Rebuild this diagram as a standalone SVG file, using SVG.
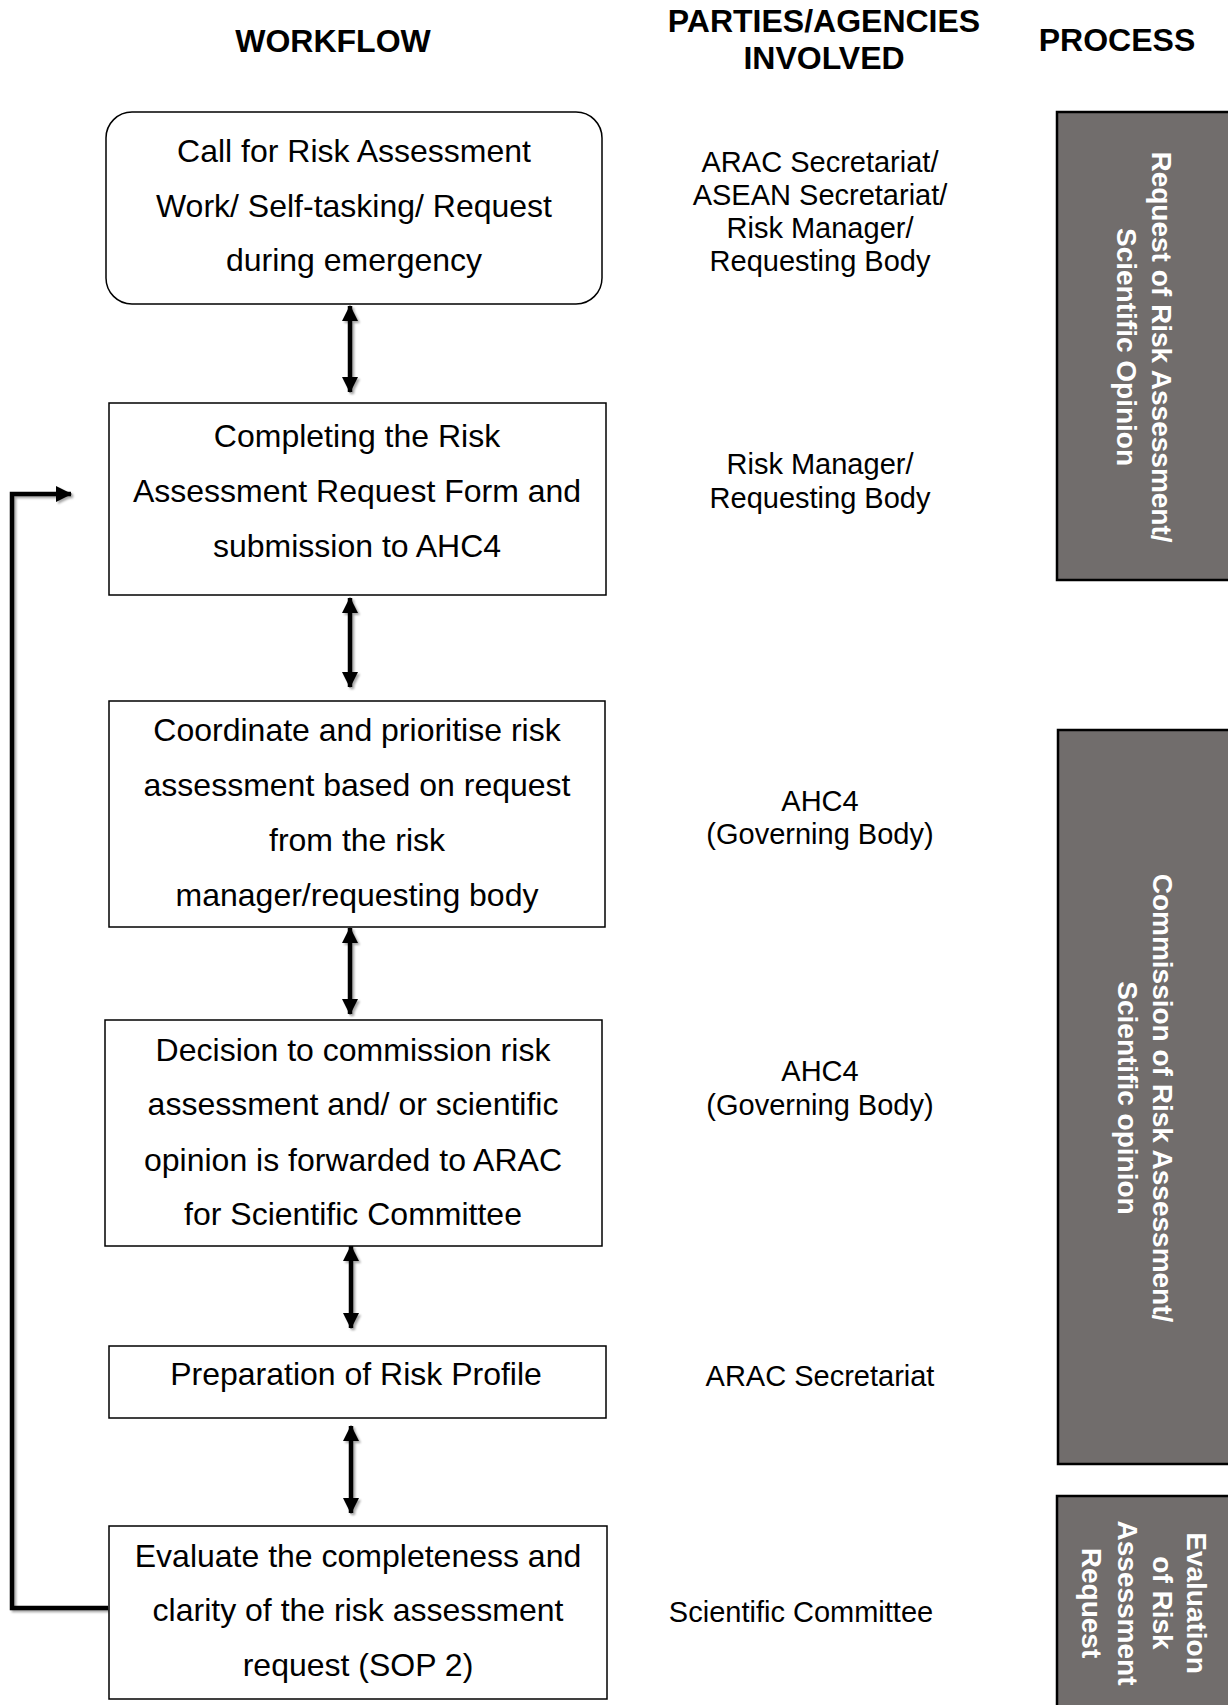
<svg xmlns="http://www.w3.org/2000/svg" width="1228" height="1705" viewBox="0 0 1228 1705">
<style>
  .hdr { font-family: "Liberation Sans", Arial, sans-serif; font-weight: bold; font-size: 32px; fill: #000; text-anchor: middle; }
  .wf { font-family: "Liberation Sans", Arial, sans-serif; font-size: 32px; fill: #000; text-anchor: middle; }
  .party { font-family: "Liberation Sans", Arial, sans-serif; font-size: 29px; fill: #000; text-anchor: middle; }
  .proc { font-family: "Liberation Sans", Arial, sans-serif; font-weight: bold; font-size: 28px; fill: #fff; text-anchor: middle; }
  .box { fill: #fff; stroke: #000; stroke-width: 1.5; }
  .pbox { fill: #716d6c; stroke: #000; stroke-width: 2.5; }
  .conn { fill: none; stroke: #000; stroke-width: 4.5; }
</style>
<defs>
  <marker id="ah" viewBox="0 0 16 16" refX="15" refY="8" markerWidth="16" markerHeight="16" markerUnits="userSpaceOnUse" orient="auto-start-reverse">
    <path d="M0,0 L16,8 L0,16 Z" fill="#000"/>
  </marker>
  <filter id="sh" x="-20%" y="-5%" width="140%" height="110%">
    <feDropShadow dx="2" dy="2" stdDeviation="1.2" flood-color="#000" flood-opacity="0.35"/>
  </filter>
</defs>
<rect width="1228" height="1705" fill="#fff"/>

<g id="headers">
  <text class="hdr" x="333" y="52">WORKFLOW</text>
  <text class="hdr" x="824" y="32">PARTIES/AGENCIES</text>
  <text class="hdr" x="824" y="69">INVOLVED</text>
  <text class="hdr" x="1117" y="51">PROCESS</text>
</g>

<g id="connectors" filter="url(#sh)">
  <line class="conn" x1="350" y1="306" x2="350" y2="392" marker-start="url(#ah)" marker-end="url(#ah)"/>
  <line class="conn" x1="350" y1="598" x2="350" y2="687" marker-start="url(#ah)" marker-end="url(#ah)"/>
  <line class="conn" x1="350" y1="928" x2="350" y2="1014" marker-start="url(#ah)" marker-end="url(#ah)"/>
  <line class="conn" x1="351" y1="1246" x2="351" y2="1328" marker-start="url(#ah)" marker-end="url(#ah)"/>
  <line class="conn" x1="351" y1="1426" x2="351" y2="1513" marker-start="url(#ah)" marker-end="url(#ah)"/>
  <path class="conn" d="M108,1608 H12 V494 H71" marker-end="url(#ah)"/>
</g>

<g id="node1">
  <rect class="box" x="106" y="112" width="496" height="192" rx="26" ry="26"/>
  <text class="wf" x="354" y="162">Call for Risk Assessment</text>
  <text class="wf" x="354" y="217">Work/ Self-tasking/ Request</text>
  <text class="wf" x="354" y="271">during emergency</text>
</g>
<g id="node2">
  <rect class="box" x="109" y="403" width="497" height="192"/>
  <text class="wf" x="357" y="447">Completing the Risk</text>
  <text class="wf" x="357" y="502">Assessment Request Form and</text>
  <text class="wf" x="357" y="557">submission to AHC4</text>
</g>
<g id="node3">
  <rect class="box" x="109" y="701" width="496" height="226"/>
  <text class="wf" x="357" y="741">Coordinate and prioritise risk</text>
  <text class="wf" x="357" y="796">assessment based on request</text>
  <text class="wf" x="357" y="851">from the risk</text>
  <text class="wf" x="357" y="906">manager/requesting body</text>
</g>
<g id="node4">
  <rect class="box" x="105" y="1020" width="497" height="226"/>
  <text class="wf" x="353" y="1061">Decision to commission risk</text>
  <text class="wf" x="353" y="1115">assessment and/ or scientific</text>
  <text class="wf" x="353" y="1171">opinion is forwarded to ARAC</text>
  <text class="wf" x="353" y="1225">for Scientific Committee</text>
</g>
<g id="node5">
  <rect class="box" x="109" y="1346" width="497" height="72"/>
  <text class="wf" x="356" y="1385">Preparation of Risk Profile</text>
</g>
<g id="node6">
  <rect class="box" x="109" y="1526" width="498" height="173"/>
  <text class="wf" x="358" y="1567">Evaluate the completeness and</text>
  <text class="wf" x="358" y="1621">clarity of the risk assessment</text>
  <text class="wf" x="358" y="1676">request (SOP 2)</text>
</g>

<g id="party1">
  <text class="party" x="820" y="172">ARAC Secretariat/</text>
  <text class="party" x="820" y="205">ASEAN Secretariat/</text>
  <text class="party" x="820" y="238">Risk Manager/</text>
  <text class="party" x="820" y="271">Requesting Body</text>
</g>
<g id="party2">
  <text class="party" x="820" y="474">Risk Manager/</text>
  <text class="party" x="820" y="508">Requesting Body</text>
</g>
<g id="party3">
  <text class="party" x="820" y="811">AHC4</text>
  <text class="party" x="820" y="844">(Governing Body)</text>
</g>
<g id="party4">
  <text class="party" x="820" y="1081">AHC4</text>
  <text class="party" x="820" y="1115">(Governing Body)</text>
</g>
<g id="party5">
  <text class="party" x="820" y="1386">ARAC Secretariat</text>
</g>
<g id="party6">
  <text class="party" x="801" y="1622">Scientific Committee</text>
</g>

<g id="process1">
  <rect class="pbox" x="1057" y="112" width="180" height="468"/>
  <g transform="translate(1140,347) rotate(90)">
    <text class="proc" x="0" y="-12">Request of Risk Assessment/</text>
    <text class="proc" x="0" y="23">Scientific Opinion</text>
  </g>
</g>
<g id="process2">
  <rect class="pbox" x="1058" y="730" width="180" height="734"/>
  <g transform="translate(1140,1098) rotate(90)">
    <text class="proc" x="0" y="-13">Commission of Risk Assessment/</text>
    <text class="proc" x="0" y="22">Scientific opinion</text>
  </g>
</g>
<g id="process3">
  <rect class="pbox" x="1057" y="1496" width="180" height="220"/>
  <g transform="translate(1140,1603) rotate(90)">
    <text class="proc" x="0" y="-47">Evaluation</text>
    <text class="proc" x="0" y="-13">of Risk</text>
    <text class="proc" x="0" y="22">Assessment</text>
    <text class="proc" x="0" y="58">Request</text>
  </g>
</g>
</svg>
